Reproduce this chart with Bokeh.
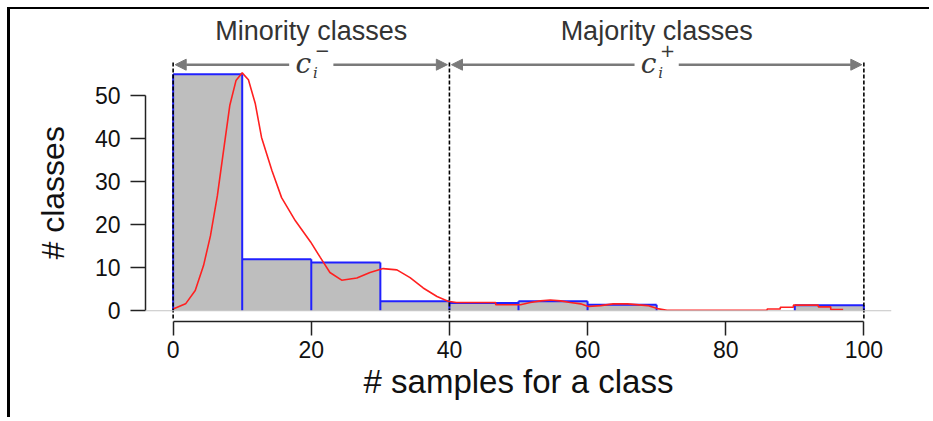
import numpy as np
from bokeh.plotting import figure
from bokeh.models import Span, Arrow, NormalHead, FixedTicker, Range1d, Title
from bokeh.core.properties import value
from bokeh.embed import file_html
from bokeh.resources import INLINE

# ---------------- data ----------------
bin_edges = [0, 10, 20, 30, 40, 50, 60, 70, 80, 90, 100]
class_counts = [55, 12, 11.2, 2.2, 1.8, 2.2, 1.4, 0, 0, 1.3]

density_x = [0, 1.8, 3.2, 4.4, 5.4, 6.4, 7.3, 8.2, 9.1, 10.0, 10.9, 11.9, 12.8, 14.3,
             15.7, 17.7, 19.9, 21.3, 22.7, 24.4, 26.6, 28.5, 30.4, 32.4, 34.3, 36.2,
             38.2, 39.8, 41.0, 46.7, 46.7, 50.3, 51.7, 53.2, 54.6, 56.1, 57.5, 59.0,
             60.1, 61.9, 63.7, 65.8, 68.7, 70.1, 71.5, 86.0, 86.0, 87.9, 87.9, 89.8,
             89.8, 93.4, 93.4, 95.2, 95.2, 97.0]
density_y = [0.4, 1.6, 4.7, 10.5, 17.4, 26.7, 37.2, 47.7, 53.5, 55.3, 53.7, 48.1, 40.3, 32.6,
             26.3, 20.9, 16.0, 12.4, 8.9, 7.1, 7.6, 8.9, 9.8, 9.5, 7.7, 5.3,
             3.3, 2.2, 1.9, 1.9, 1.4, 1.4, 1.9, 2.3, 2.5, 2.3, 1.9, 1.6,
             1.0, 1.2, 1.6, 1.6, 1.2, 0.5, 0.1, 0.1, 0.4, 0.4, 0.8, 0.8,
             1.3, 1.3, 0.9, 0.9, 0.3, 0.3]

region_bounds = [0, 40, 100]
region_names = ["Minority classes", "Majority classes"]
region_signs = ["\u2212", "+"]
x_ticks = [0, 20, 40, 60, 80, 100]
y_ticks = [0, 10, 20, 30, 40, 50]

ARROW_Y = 57.2
HEADER_Y = 65.1
GAP = 3.2

W, H = 922, 410

# ---------------- figure ----------------
p = figure(width=W, height=H,
           x_range=Range1d(-4, 104), y_range=Range1d(-2.5, 69.1),
           output_backend="svg", toolbar_location=None,
           min_border_left=135, min_border_right=41,
           min_border_top=4, min_border_bottom=98)
p.styles = {"border-left": "3px solid black", "border-top": "2px solid black",
            "margin-left": "7px", "margin-top": "7px"}
p.outline_line_color = None
p.xgrid.visible = False
p.ygrid.visible = False
p.background_fill_color = "white"
p.border_fill_color = "white"

# baseline at zero
p.add_layout(Span(location=0, dimension="width", line_color="#c4c4c4", line_width=1))

# histogram fill
lefts = np.array(bin_edges[:-1], dtype=float)
rights = np.array(bin_edges[1:], dtype=float)
counts = np.array(class_counts, dtype=float)
mask = counts > 0
p.quad(left=lefts[mask], right=rights[mask], bottom=0, top=counts[mask],
       fill_color="#bebebe", line_color=None)

# histogram outline (tops + vertical edges), derived from the bins
p.segment(x0=lefts[mask], x1=rights[mask], y0=counts[mask], y1=counts[mask],
          line_color="#2020ff", line_width=2)
padded = np.concatenate([[0.0], counts, [0.0]])
edge_h = np.maximum(padded[:-1], padded[1:])
edges = np.array(bin_edges, dtype=float)
em = edge_h > 0
p.segment(x0=edges[em], x1=edges[em], y0=0, y1=edge_h[em],
          line_color="#2020ff", line_width=2)

# density curve
p.line(density_x, density_y, line_color="#ff2020", line_width=1.6)

# dashed boundaries
p.segment(x0=region_bounds, x1=region_bounds, y0=-1.8, y1=57.7,
          line_color="black", line_width=1.6, line_dash="4 2")

# arrows
acol = "#7a7a7a"
centers = []
for a, b in zip(region_bounds[:-1], region_bounds[1:]):
    c = (a + b) / 2
    centers.append(c)
    for xs, xe in [(c - GAP, a + 0.3), (c + GAP, b - 0.3)]:
        p.add_layout(Arrow(x_start=xs, y_start=ARROW_Y, x_end=xe, y_end=ARROW_Y,
                           line_color=acol, line_width=2.5,
                           end=NormalHead(size=11, fill_color=acol, line_color=acol)))

# region headers
p.text(x=centers, y=HEADER_Y, text=region_names, text_align="center",
       text_baseline="middle", text_font=value("Liberation Sans"),
       text_font_size="27px", text_color="#333333")

# c_i^- / c_i^+
p.text(x=centers, y=ARROW_Y, text=["c"] * len(centers), x_offset=-8, y_offset=-1,
       text_align="center", text_baseline="middle",
       text_font=value("DejaVu Serif"), text_font_style="italic",
       text_font_size="28px", text_color="#383838")
p.text(x=centers, y=ARROW_Y, text=["i"] * len(centers), x_offset=4, y_offset=8,
       text_align="center", text_baseline="middle",
       text_font=value("DejaVu Serif"), text_font_style="italic",
       text_font_size="15px", text_color="#383838")
p.text(x=centers, y=ARROW_Y, text=region_signs, x_offset=11, y_offset=-14,
       text_align="center", text_baseline="middle",
       text_font=value("DejaVu Sans"), text_font_size="18px", text_color="#383838")

# axes
for ax, ticks, bounds in [(p.xaxis, x_ticks, (0, 100)), (p.yaxis, y_ticks, (0, 50))]:
    ax.ticker = FixedTicker(ticks=ticks)
    ax.bounds = bounds
    ax.axis_line_color = "#222222"
    ax.axis_line_width = 1.5
    ax.major_tick_line_color = "#222222"
    ax.major_tick_line_width = 1.5
    ax.major_tick_in = 0
    ax.minor_tick_in = 0
    ax.minor_tick_out = 0
    ax.major_label_text_font = "Liberation Sans"
    ax.major_label_text_font_size = "23px"
    ax.major_label_text_color = "#111111"
    ax.axis_label_text_font = "Liberation Sans"
    ax.axis_label_text_font_size = "33px"
    ax.axis_label_text_font_style = "normal"
    ax.axis_label_text_color = "#111111"

p.xaxis.axis_label = "# samples for a class"
p.xaxis.major_tick_out = 14
p.xaxis.major_label_standoff = 5
p.xaxis.axis_label_standoff = 2

p.yaxis.major_tick_out = 15
p.yaxis.major_label_standoff = 10

# y-axis title as a side title, shifted to sit where the reference puts it
p.add_layout(Title(text="# classes", align="left", offset=62, standoff=42,
                   text_font="Liberation Sans", text_font_size="32px",
                   text_font_style="normal", text_color="#111111"), "left")

open("out.html", "w").write(file_html(p, INLINE))
